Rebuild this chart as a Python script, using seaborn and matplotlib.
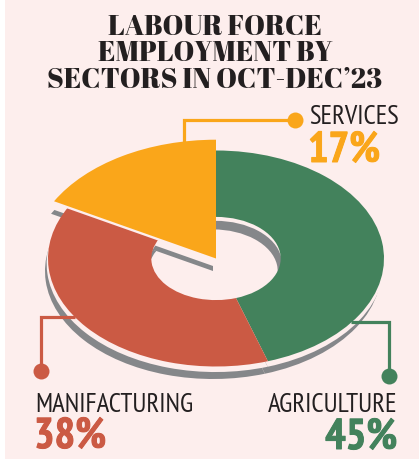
import matplotlib
matplotlib.use("Agg")
import matplotlib.pyplot as plt
import matplotlib.patheffects as pe
import seaborn as sns

sectors = ["AGRICULTURE", "MANIFACTURING", "SERVICES"]
shares = [45, 38, 17]
share_labels = ["45%", "38%", "17%"]
title_lines = ["LABOUR FORCE", "EMPLOYMENT BY", "SECTORS IN OCT-DEC\u201923"]

GREEN = "#43825C"
RED = "#CB5A44"
ORANGE = "#FAA61A"
GREY = "#85878A"
BG = "#FDEEED"
INK = "#231F20"

W, H = 419, 459
CX, CY = 216, 258.5   # donut centre, pixels
RX, RY = 168, 108     # donut radii, pixels
RING = 0.615

sns.set_theme(style="white")
fig = plt.figure(figsize=(W / 100, H / 100), dpi=100, facecolor="white")
ax = fig.add_axes([5 / W, 0, (W - 5) / W, 1])


def to_unit(x, y):
    return (x - CX) / RX, (CY - y) / RY


def layer(x, y, colors, radius=1.0, width=None):
    # every layer is the same pie, only moved and recoloured
    props = {"linewidth": 0}
    if width is not None:
        props["width"] = width
    ax.pie(shares, colors=colors, center=to_unit(x, y), radius=radius,
           startangle=90, counterclock=False, wedgeprops=props)


only_services = ["none", "none"]

# drop shadow of the ring and of the pulled-up services slice
layer(213, 271, [GREY] * 3, width=RING)
layer(213, 271, only_services + [GREY], radius=1.1)
layer(215.5, 263.5, [BG] * 3, radius=1.005, width=RING - 0.005)
layer(213, 266, only_services + [BG], radius=1.1)

# the ring, then a thin gap and the services slice on top
layer(CX, CY, [GREEN, RED, ORANGE], width=RING)
layer(CX, CY + 2.5, only_services + [BG], radius=1.1)
layer(CX, CY, only_services + [ORANGE], radius=1.1)

# pie() forces equal aspect and its own limits, the donut here is squashed
ax.set_aspect("auto")
ax.set_xlim((5 - CX) / RX, (W - CX) / RX)
ax.set_ylim((CY - H) / RY, CY / RY)
ax.set_frame_on(True)
ax.set_facecolor(BG)
sns.despine(ax=ax, left=True, bottom=True, right=True, top=True)

# connectors
leaders = [
    ([351, 389, 389], [322, 322, 376], GREEN),
    ([75, 41, 41], [317, 317, 371], RED),
    ([184, 184, 295], [142, 120, 120], ORANGE),
]
for xs, ys, col in leaders:
    ux, uy = zip(*[to_unit(x, y) for x, y in zip(xs, ys)])
    ax.plot(ux, uy, color=col, lw=2.3, solid_capstyle="butt", solid_joinstyle="miter")
    ax.plot(ux[-1], uy[-1], "o", color=col, ms=11.5, mew=0)


def put(x, y, s, **kw):
    return fig.text(x / W, 1 - y / H, s, va="baseline", **kw)


def pct(x, y, s, ha, col):
    t = put(x, y, s, ha=ha, family=label_font, weight="bold", fontsize=31, color=col)
    t.set_path_effects([pe.withStroke(linewidth=0.7, foreground=col)])


title_font = ["Abril Fatface", "Liberation Serif"]
for line, y in zip(title_lines, [35, 61, 88]):
    put(215, y, line, ha="center", family=title_font, fontsize=20.2, color=INK)

label_font = ["PT Sans Narrow", "Liberation Sans"]
put(397, 412, sectors[0], ha="right", family=label_font, fontsize=19.3, color=INK)
pct(397, 449, share_labels[0], "right", GREEN)
put(35, 412, sectors[1], ha="left", family=label_font, fontsize=19.3, color=INK)
pct(34, 448, share_labels[1], "left", RED)
put(309, 124, sectors[2], ha="left", family=label_font, fontsize=19.3, color=INK)
pct(308, 162, share_labels[2], "left", ORANGE)

fig.savefig("out.png", dpi=100)
